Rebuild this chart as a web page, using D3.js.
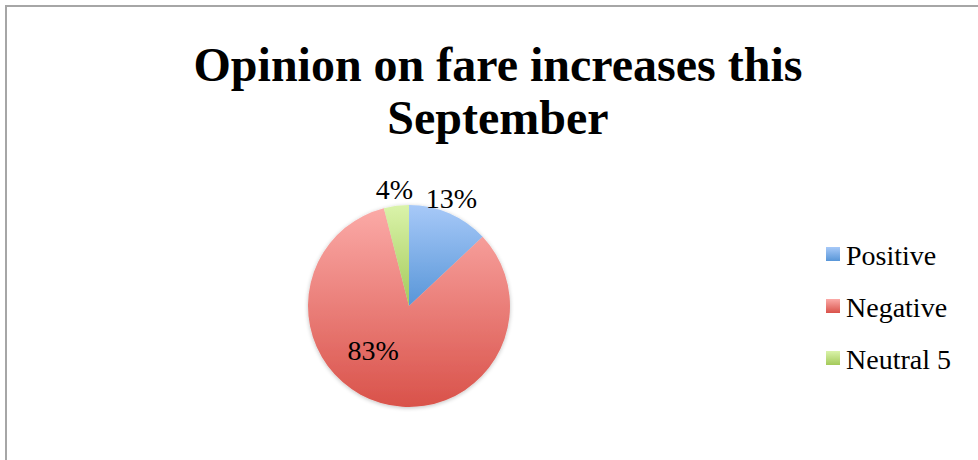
<!DOCTYPE html>
<html>
<head>
<meta charset="utf-8">
<script src="https://cdn.jsdelivr.net/npm/d3@7"></script>
<style>
  html, body { margin: 0; padding: 0; background: #fff; }
  svg { display: block; }
</style>
</head>
<body>
<svg id="chart" width="978" height="460"></svg>
<script>
const titleLines = ["Opinion on fare increases this", "September"];
const categories = ["Positive", "Negative", "Neutral 5"];
const values = [13, 83, 4];
const labels = ["13%", "83%", "4%"];
const gradTop = ["#a7c9f8", "#fbaaa7", "#daf3aa"];
const gradBottom = ["#5896d8", "#d9524a", "#a4ca5a"];

const W = 978, H = 460;
const svg = d3.select("#chart");
const defs = svg.append("defs");

categories.forEach((c, i) => {
  const g = defs.append("linearGradient")
    .attr("id", "grad" + i)
    .attr("x1", 0).attr("y1", 0).attr("x2", 0).attr("y2", 1);
  g.append("stop").attr("offset", "0%").attr("stop-color", gradTop[i]);
  g.append("stop").attr("offset", "100%").attr("stop-color", gradBottom[i]);
});

const f = defs.append("filter").attr("id", "shadow")
  .attr("x", "-20%").attr("y", "-20%").attr("width", "140%").attr("height", "140%");
f.append("feGaussianBlur").attr("in", "SourceAlpha").attr("stdDeviation", 2).attr("result", "b");
f.append("feOffset").attr("in", "b").attr("dx", 0).attr("dy", 1).attr("result", "o");
f.append("feComponentTransfer").attr("in", "o").attr("result", "s")
  .append("feFuncA").attr("type", "linear").attr("slope", 0.25);
const m = f.append("feMerge");
m.append("feMergeNode").attr("in", "s");
m.append("feMergeNode").attr("in", "SourceGraphic");

// border
svg.append("rect")
  .attr("x", 6).attr("y", 6)
  .attr("width", W + 10).attr("height", H + 10)
  .attr("fill", "#fff")
  .attr("stroke", "#a6a6a6").attr("stroke-width", 2);

// title
const title = svg.append("text")
  .attr("text-anchor", "middle")
  .attr("font-family", "'Liberation Serif', 'Times New Roman', serif")
  .attr("font-weight", "bold")
  .attr("font-size", 48)
  .attr("fill", "#000");
titleLines.forEach((t, i) => {
  title.append("tspan").attr("x", 498).attr("y", 81 + i * 53).text(t);
});

// pie
const cx = 409, cy = 306, r = 101;
const pie = d3.pie().sort(null).value(d => d)(values);
const arc = d3.arc().innerRadius(0).outerRadius(r);

const g = svg.append("g").attr("transform", `translate(${cx},${cy})`);
g.append("g").attr("filter", "url(#shadow)")
  .selectAll("path").data(pie).join("path")
  .attr("d", arc)
  .attr("fill", (d, i) => `url(#grad${i})`);

// labels
const outerArc = d3.arc().innerRadius(117).outerRadius(117);
const innerArc = d3.arc().innerRadius(r * 0.6).outerRadius(r * 0.6);
g.selectAll("text.lbl").data(pie).join("text")
  .attr("class", "lbl")
  .attr("font-family", "'Liberation Serif', 'Times New Roman', serif")
  .attr("font-size", 28)
  .attr("fill", "#000")
  .attr("text-anchor", "middle")
  .attr("dominant-baseline", "central")
  .attr("transform", d => {
    const big = (d.endAngle - d.startAngle) > Math.PI;
    let [x, y] = big ? innerArc.centroid(d) : outerArc.centroid(d);
    if (big) { x -= 19; y -= 14; }
    else if (d.index === 0) { x -= 4; }
    return `translate(${x},${y})`;
  })
  .text((d, i) => labels[i]);

// legend
const leg = svg.append("g").attr("transform", "translate(826,247)");
const rows = leg.selectAll("g").data(categories).join("g")
  .attr("transform", (d, i) => `translate(0,${i * 52})`);
rows.append("rect")
  .attr("width", 14).attr("height", 14)
  .attr("fill", (d, i) => `url(#grad${i})`);
rows.append("text")
  .attr("x", 20).attr("y", 18)
  .attr("font-family", "'Liberation Serif', 'Times New Roman', serif")
  .attr("font-size", 28)
  .attr("fill", "#000")
  .text(d => d);
</script>
</body>
</html>
